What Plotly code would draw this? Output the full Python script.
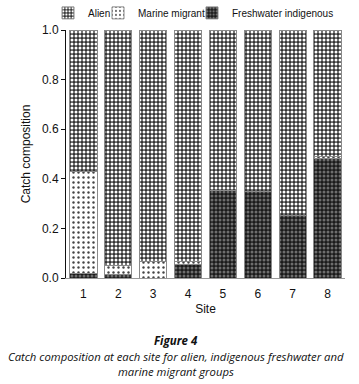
import plotly.graph_objects as go

sites = ["1", "2", "3", "4", "5", "6", "7", "8"]
freshwater_indigenous = [0.02, 0.015, 0.0, 0.055, 0.352, 0.347, 0.251, 0.48]
marine_migrant = [0.41, 0.035, 0.065, 0.01, 0.0, 0.0, 0.0, 0.01]
alien = [round(1 - f - m, 3) for f, m in zip(freshwater_indigenous, marine_migrant)]
y_ticks = [0.0, 0.2, 0.4, 0.6, 0.8, 1.0]

x = list(range(1, 9))
fig = go.Figure()
fig.add_trace(go.Bar(
    x=x, y=freshwater_indigenous, name="Freshwater indigenous", width=0.78, legend="legend3",
    marker=dict(color="#1a1a1a", line=dict(color="#8a8a8a", width=1),
                pattern=dict(shape=".", bgcolor="#1a1a1a", fgcolor="#6e6e6e",
                             size=4, solidity=0.45, fillmode="replace")),
))
fig.add_trace(go.Bar(
    x=x, y=marine_migrant, name="Marine migrant", width=0.78, legend="legend2",
    marker=dict(color="white", line=dict(color="#8a8a8a", width=1),
                pattern=dict(shape=".", bgcolor="white", fgcolor="#444444",
                             size=5, solidity=0.18, fillmode="replace")),
))
fig.add_trace(go.Bar(
    x=x, y=alien, name="Alien", width=0.78, legend="legend",
    marker=dict(color="#444444", line=dict(color="#8a8a8a", width=1),
                pattern=dict(shape=".", bgcolor="#333333", fgcolor="white",
                             size=4, solidity=0.45, fillmode="replace")),
))

font_family = "Liberation Sans, Arial, sans-serif"
leg_common = dict(orientation="h", yanchor="middle", xanchor="left", y=1.069,
                  font=dict(size=10), itemwidth=30, bgcolor="rgba(0,0,0,0)")
fig.update_layout(
    width=359, height=384,
    barmode="stack",
    plot_bgcolor="white", paper_bgcolor="white",
    margin=dict(l=66, r=14, t=30, b=106, autoexpand=False),
    font=dict(family=font_family, size=12, color="#111"),
    showlegend=True,
    legend=dict(x=-0.0645, **leg_common),
    legend2=dict(x=0.1147, **leg_common),
    legend3=dict(x=0.4516, **leg_common),
    xaxis=dict(range=[0.5, 8.5], tickmode="array", tickvals=x, ticktext=sites,
               showline=True, linecolor="#999999", linewidth=1, ticks="",
               showgrid=False, zeroline=False, ticklabelstandoff=5,
               title=dict(text="Site", font=dict(size=12), standoff=4),
               tickfont=dict(size=12)),
    yaxis=dict(range=[0, 1.0], tickmode="array", tickvals=y_ticks,
               ticktext=[f"{v:.1f}" for v in y_ticks],
               showline=True, linecolor="#111", linewidth=1, ticks="outside",
               ticklen=4, tickcolor="#111", showgrid=False, zeroline=False,
               title=dict(text="Catch composition", font=dict(size=12), standoff=8),
               tickfont=dict(size=12)),
)

cap_font = "Open Sans, Noto Sans, sans-serif"
cap_x = 0.394
fig.add_annotation(text="<b><i>Figure 4</i></b>", xref="paper", yref="paper",
                   x=cap_x, y=-0.25, showarrow=False, font=dict(family=cap_font, size=11.5, color="#111"),
                   xanchor="center", yanchor="middle")
fig.add_annotation(text="<i>Catch composition at each site for alien, indigenous freshwater and</i>",
                   xref="paper", yref="paper", x=cap_x, y=-0.315, showarrow=False,
                   font=dict(family=cap_font, size=11.3, color="#111"), xanchor="center", yanchor="middle")
fig.add_annotation(text="<i>marine migrant groups</i>",
                   xref="paper", yref="paper", x=cap_x, y=-0.375, showarrow=False,
                   font=dict(family=cap_font, size=11.3, color="#111"), xanchor="center", yanchor="middle")

fig.write_html("out.html", config={"displayModeBar": False},
               post_script="document.body.style.margin='0px';")
